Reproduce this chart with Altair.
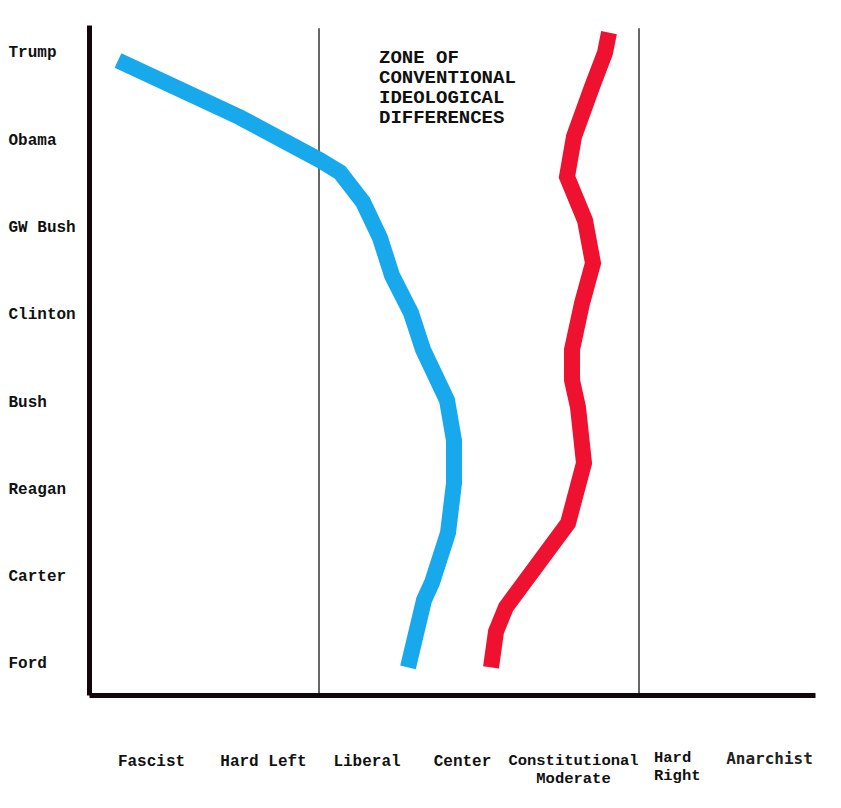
import altair as alt
import pandas as pd

# Presidents (bottom to top)
presidents = ["Ford", "Carter", "Reagan", "Bush", "Clinton", "GW Bush", "Obama", "Trump"]

# Ideology spectrum labels and their positions on the x scale
spectrum_labels = ["Fascist", "Hard Left", "Liberal", "Center"]
spectrum_pos = [62.5, 174.5, 278, 373.5]
const_label = "Constitutional\nModerate"
const_pos = 484.5
hard_right_label = "Hard\nRight"
hard_right_pos = 565
anarchist_label = "Anarchist"
anarchist_pos = 680.5

# Zone boundaries
zone_bounds = [230, 550]

# Blue line: (ideology position, president level)
blue_pos = [29, 151, 231, 251, 274, 291, 303, 322, 334, 358, 365, 365, 359, 343, 335, 319]
blue_lvl = [6.90, 6.25, 5.76, 5.62, 5.28, 4.87, 4.44, 4.01, 3.59, 3.01, 2.55, 2.06, 1.49, 0.92, 0.72, -0.05]

# Red line
red_pos = [520, 516, 503, 485, 478, 496, 504, 493, 483, 483, 489, 495, 479, 417, 407, 402]
red_lvl = [7.22, 6.99, 6.60, 6.03, 5.57, 5.07, 4.58, 4.12, 3.59, 3.24, 2.93, 2.29, 1.60, 0.64, 0.36, -0.05]

XDOM = [0, 726]
YDOM = [-0.367, 7.308]

lines = pd.DataFrame(
    [{"series": "blue", "pos": p, "lvl": l, "i": i} for i, (p, l) in enumerate(zip(blue_pos, blue_lvl))]
    + [{"series": "red", "pos": p, "lvl": l, "i": i} for i, (p, l) in enumerate(zip(red_pos, red_lvl))]
)

xs = alt.Scale(domain=XDOM, nice=False, zero=False)
ys = alt.Scale(domain=YDOM, nice=False, zero=False)

label_expr = "[" + ",".join("'%s'" % p for p in presidents) + "][datum.value]"

axis_col = "#120608"

base_axes = alt.Chart(pd.DataFrame({"pos": [0], "lvl": [0]})).mark_point(opacity=0).encode(
    x=alt.X("pos:Q", scale=xs, axis=alt.Axis(title=None, labels=False, ticks=False, grid=False,
                                              domainWidth=5, domainColor=axis_col)),
    y=alt.Y("lvl:Q", scale=ys, axis=alt.Axis(title=None, values=list(range(8)), labelExpr=label_expr,
                                              ticks=False, tickSize=0, grid=False, labelPadding=81,
                                              labelAlign="left", labelFont="Liberation Mono",
                                              labelFontWeight="bold", labelFontSize=16,
                                              labelColor="#111", domainWidth=5, domainColor=axis_col)),
)

rules = alt.Chart(pd.DataFrame({"pos": zone_bounds, "top": [7.27] * 2, "bot": [YDOM[0]] * 2})).mark_rule(
    color="#000", strokeWidth=1.2
).encode(x=alt.X("pos:Q", scale=xs), y=alt.Y("top:Q", scale=ys), y2="bot:Q")

line_layer = alt.Chart(lines).mark_line(strokeWidth=16, strokeCap="butt", strokeJoin="miter").encode(
    x=alt.X("pos:Q", scale=xs),
    y=alt.Y("lvl:Q", scale=ys),
    order="i:Q",
    color=alt.Color("series:N", scale=alt.Scale(domain=["blue", "red"], range=["#18a9ec", "#ee1230"]), legend=None),
)

annot = alt.Chart(pd.DataFrame({"pos": [290], "lvl": [7.04],
                                "t": ["ZONE OF\nCONVENTIONAL\nIDEOLOGICAL\nDIFFERENCES"]})).mark_text(
    align="left", baseline="top", lineBreak="\n", lineHeight=20, font="Liberation Mono",
    fontWeight="bold", fontSize=19, color="#111"
).encode(x=alt.X("pos:Q", scale=xs), y=alt.Y("lvl:Q", scale=ys), text="t:N")

LBL_Y = -1.03
center_lbls = alt.Chart(pd.DataFrame({"pos": spectrum_pos, "lvl": [LBL_Y] * len(spectrum_pos),
                                      "t": spectrum_labels})).mark_text(
    align="center", baseline="top", font="Liberation Mono",
    fontWeight="bold", fontSize=16, color="#111"
).encode(x=alt.X("pos:Q", scale=xs), y=alt.Y("lvl:Q", scale=ys), text="t:N")

const_lbl = alt.Chart(pd.DataFrame({"pos": [const_pos], "lvl": [LBL_Y], "t": [const_label]})).mark_text(
    align="center", baseline="top", lineBreak="\n", lineHeight=18, font="Liberation Mono",
    fontWeight="bold", fontSize=15.5, color="#111"
).encode(x=alt.X("pos:Q", scale=xs), y=alt.Y("lvl:Q", scale=ys), text="t:N")

hr_lbl = alt.Chart(pd.DataFrame({"pos": [hard_right_pos], "lvl": [LBL_Y + 0.03], "t": [hard_right_label]})).mark_text(
    align="left", baseline="top", lineBreak="\n", lineHeight=18, font="Liberation Mono",
    fontWeight="bold", fontSize=15.5, color="#111"
).encode(x=alt.X("pos:Q", scale=xs), y=alt.Y("lvl:Q", scale=ys), text="t:N")

an_lbl = alt.Chart(pd.DataFrame({"pos": [anarchist_pos], "lvl": [LBL_Y + 0.02], "t": [anarchist_label]})).mark_text(
    align="center", baseline="top", font="DejaVu Sans Mono", fontWeight="bold", fontSize=16, color="#222"
).encode(x=alt.X("pos:Q", scale=xs), y=alt.Y("lvl:Q", scale=ys), text="t:N")

chart = alt.layer(base_axes, rules, line_layer, annot, center_lbls, const_lbl, hr_lbl, an_lbl).properties(
    width=726, height=670,
    background="white",
    autosize=alt.AutoSizeParams(type="none"),
    padding={"left": 81, "top": 17, "right": 18, "bottom": 100},
).configure_view(stroke=None)

chart.save("out.html", embed_options={"renderer": "svg", "actions": False})
